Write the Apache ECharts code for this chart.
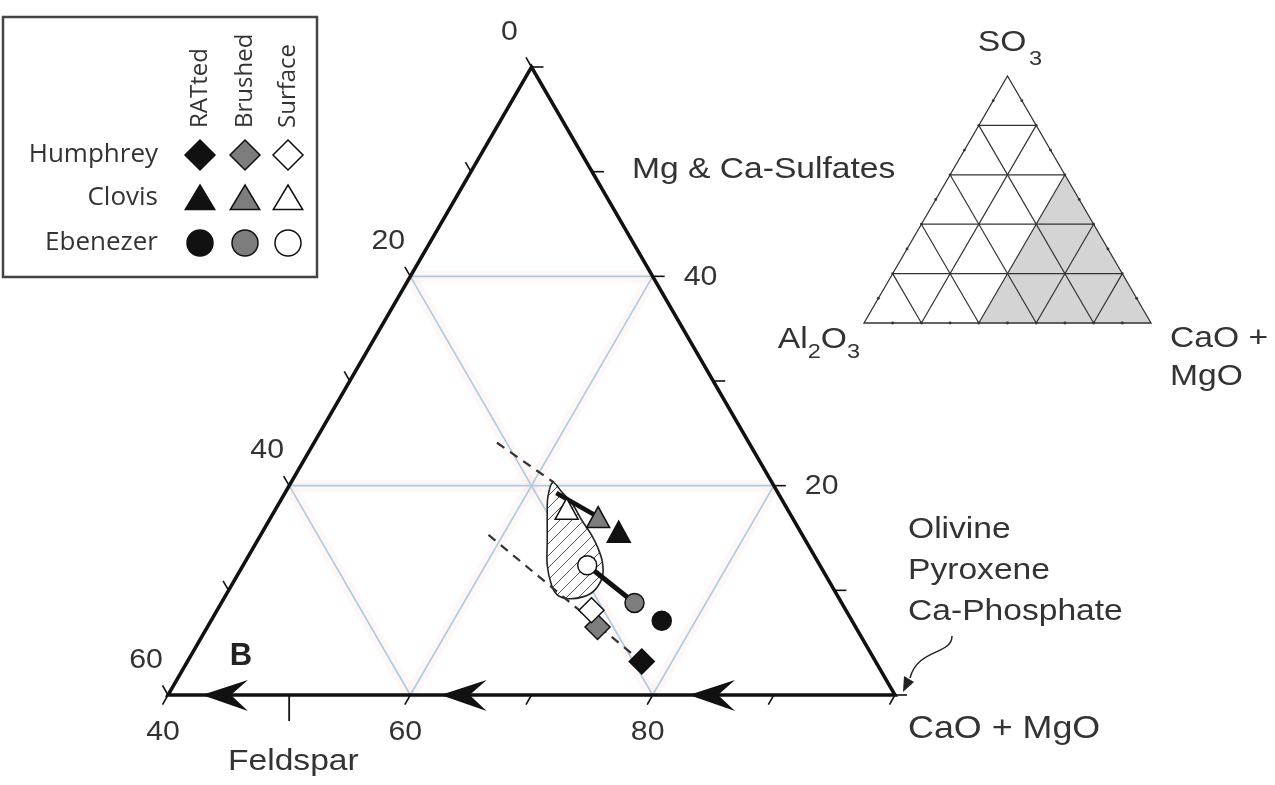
<!DOCTYPE html>
<html><head><meta charset="utf-8">
<script src="https://cdn.jsdelivr.net/npm/echarts@6.0.0/dist/echarts.min.js"></script>
<style>html,body{margin:0;padding:0;background:#fff}#c{width:1275px;height:785px}</style>
</head><body><div id="c"></div>
<script>
// ---------- DATA (wt %, SO3 + Al2O3 + CaO+MgO = 100) ----------
const treatments = ['RATted', 'Brushed', 'Surface'];
const rocks = ['Humphrey', 'Clovis', 'Ebenezer'];
const humphreySO3  = [3.2, 6.5, 8.1];
const humphreyCaMg = [77.5, 72.2, 70.9];
const clovisSO3    = [15.6, 17.0, 17.8];
const clovisCaMg   = [69.4, 67.0, 64.0];
const ebenezerSO3  = [7.1, 8.8, 12.4];
const ebenezerCaMg = [77.2, 74.1, 68.4];

// soil field (hatched) outline
const fieldSO3  = [20.3, 19.4, 18.2, 16.7, 15.3, 14.0, 12.7, 11.3, 10.0, 9.4, 9.2, 9.6, 10.5, 12.4, 14.8, 17.2, 18.9];
const fieldCaMg = [61.6, 62.8, 64.3, 65.8, 67.3, 68.5, 69.5, 70.2, 70.2, 69.6, 68.4, 67.3, 66.4, 65.1, 63.9, 62.7, 61.9];

// dashed trend lines
const upperTrendSO3  = [24.1, 20.3];
const upperTrendCaMg = [55.1, 61.7];
const lowerTrendSO3  = [15.3, 3.5];
const lowerTrendCaMg = [58.8, 77.0];
// Clovis arrow start (top of soil field)
const clovisArrowSO3 = [19.3, 17.0];
const clovisArrowCaMg = [62.4, 67.0];

// main triangle axes (sub-triangle CaO+MgO >= 40)
const caMgTicks   = [40, 50, 60, 70, 80, 90, 100];
const caMgLabels  = [40, 60, 80];
const al2o3Ticks  = [0, 10, 20, 30, 40, 50, 60];
const al2o3Labels = [0, 20, 40, 60];
const so3Ticks    = [0, 10, 20, 30, 40, 50, 60];
const so3Labels   = [40, 20];
const so3Grid   = [20, 40];
const caMgGrid  = [60, 80];
const al2o3Grid = [20, 40];
const feldsparCaMg = 50;
const arrowCaMg = [42.8, 62.5, 83.0];

// inset full ternary
const insetGrid  = [20, 40, 60, 80];
const insetTicks = [10, 20, 30, 40, 50, 60, 70, 80, 90];
const insetMinCaMg = 40, insetMaxSO3 = 60;

// ---------- helpers ----------
const xy = (s, c) => [c + s / 2, s];
const FONT = "'Liberation Sans', Arial, sans-serif";
const LFONT = "'Open Sans', 'Noto Sans', sans-serif";
const TXT = '#333';
const SX = 1.12;

const pc = document.createElement('canvas');
pc.width = 12; pc.height = 12;
(function () {
  const g = pc.getContext('2d');
  g.fillStyle = '#fff'; g.fillRect(0, 0, 12, 12);
  g.strokeStyle = '#555'; g.lineWidth = 1;
  for (let k = -1; k <= 1; k++) { g.beginPath(); g.moveTo(k * 12, 12); g.lineTo(k * 12 + 12, 0); g.stroke(); }
})();

const mctx = document.createElement('canvas').getContext('2d');
function chem(parts, x, y, size, align) {
  const sub = Math.round(size * 0.7);
  const els = []; let w = 0; const ws = [];
  parts.forEach(([t, isSub]) => {
    mctx.font = (isSub ? sub : size) + 'px ' + FONT;
    const m = mctx.measureText(t).width * SX; ws.push(m); w += m;
  });
  let cx = align === 'right' ? x - w : (align === 'center' ? x - w / 2 : x);
  parts.forEach(([t, isSub], i) => {
    els.push({ type: 'text', x: cx, y: isSub ? y + size * 0.42 : y, scaleX: SX,
      style: { text: t, font: (isSub ? sub : size) + 'px ' + FONT, fill: TXT, align: 'left', verticalAlign: 'middle' } });
    cx += ws[i];
  });
  return els;
}
function T(text, x, y, size, opts) {
  opts = opts || {};
  return { type: 'text', x, y, scaleX: opts.sx || SX, rotation: opts.rot || 0,
    style: { text, font: (opts.bold ? 'bold ' : '') + size + 'px ' + (opts.family || FONT), fill: opts.fill || TXT,
      align: opts.align || 'left', verticalAlign: 'middle' } };
}
function diamond(cx, cy, r, fill) {
  return { type: 'polygon', shape: { points: [[cx, cy - r], [cx + r, cy], [cx, cy + r], [cx - r, cy]] },
    style: { fill, stroke: '#111', lineWidth: 1.5 } };
}
function tri(cx, cy, r, fill) {
  return { type: 'polygon', shape: { points: [[cx, cy - r], [cx + r * 1.05, cy + r * 0.75], [cx - r * 1.05, cy + r * 0.75]] },
    style: { fill, stroke: '#111', lineWidth: 1.5 } };
}
function circ(cx, cy, r, fill) {
  return { type: 'circle', shape: { cx, cy, r }, style: { fill, stroke: '#111', lineWidth: 1.5 } };
}
const fills = ['#111111', '#7d7d7d', '#ffffff'];

// ---------- legend ----------
const legend = [{ type: 'rect', shape: { x: 3, y: 17, width: 314, height: 260 }, style: { fill: '#fff', stroke: '#444', lineWidth: 2.5 } }];
const colX = [200, 245, 288];
const rowY = [155, 198, 243];
treatments.forEach((t, i) => legend.push(T(t, colX[i], 128, 24, { rot: Math.PI / 2, family: LFONT, sx: 1 })));
rocks.forEach((r, j) => {
  legend.push(T(r, 158, rowY[j], 25, { align: 'right', family: LFONT, sx: 1.04 }));
  treatments.forEach((t, i) => {
    const f = fills[i];
    if (j === 0) legend.push(diamond(colX[i], rowY[j], 15, f));
    if (j === 1) legend.push(tri(colX[i], rowY[j] + 1, 14, f));
    if (j === 2) legend.push(circ(colX[i], rowY[j], 13, f));
  });
});

// ---------- labels ----------
const labels = [
  T('Mg & Ca-Sulfates', 632, 170, 30),
  T('Olivine', 908, 530, 30),
  T('Pyroxene', 908, 571, 30),
  T('Ca-Phosphate', 908, 612, 30),
  T('CaO + MgO', 908, 729, 32),
  T('Feldspar', 228, 762, 30),
  T('B', 241, 656, 31, { bold: true, align: 'center', fill: '#222', sx: 1 }),
  T('SO', 1002, 43, 30, { align: 'center' }),
  T('3', 1029, 59, 21),
  T('CaO +', 1170, 339, 30),
  T('MgO', 1170, 377, 30),
  { type: 'bezierCurve', shape: { x1: 952, y1: 636, cpx1: 952, cpy1: 655, cpx2: 918, cpy2: 648, x2: 910, y2: 678 },
    style: { stroke: '#222', lineWidth: 1.5, fill: null } },
  { type: 'polygon', shape: { points: [[903, 692], [904, 676], [914, 682]] }, style: { fill: '#222' } }
].concat(chem([['Al', 0], ['2', 1], ['O', 0], ['3', 1]], 860, 340, 30, 'right'));

// ---------- render functions ----------
function mainFrame(params, api) {
  const P = (s, c) => api.coord(xy(s, c));
  const ch = [];
  const segs = [];
  so3Grid.forEach(s => segs.push([P(s, 40), P(s, 100 - s)]));
  caMgGrid.forEach(c => segs.push([P(0, c), P(100 - c, c)]));
  al2o3Grid.forEach(a => segs.push([P(60 - a, 40), P(0, 100 - a)]));
  segs.forEach(([a, b]) => ch.push({ type: 'line', shape: { x1: a[0], y1: a[1], x2: b[0], y2: b[1] }, style: { stroke: 'rgba(250,225,215,0.25)', lineWidth: 12 } }));
  segs.forEach(([a, b]) => ch.push({ type: 'line', shape: { x1: a[0], y1: a[1], x2: b[0], y2: b[1] }, style: { stroke: '#a9cce4', lineWidth: 1.6 } }));
  return { type: 'group', children: ch };
}
function mainAxes(params, api) {
  const P = (s, c) => api.coord(xy(s, c));
  const ch = [];
  const L = (x1, y1, x2, y2, w) => ch.push({ type: 'line', shape: { x1, y1, x2, y2 }, style: { stroke: '#111', lineWidth: w || 1.6 } });
  const tl = 11;
  al2o3Ticks.forEach(a => { const p = P(60 - a, 40); L(p[0], p[1], p[0] - tl * 0.5, p[1] - tl * 0.866); });
  so3Ticks.forEach(s => { const p = P(s, 100 - s); L(p[0], p[1], p[0] + 12, p[1]); });
  caMgTicks.forEach(c => {
    const p = P(0, c);
    if (c === feldsparCaMg) L(p[0], p[1], p[0], p[1] + 26, 1.8);
    else L(p[0], p[1], p[0] - tl * 0.5, p[1] + tl * 0.866);
  });
  ch.push({ type: 'polygon', shape: { points: [P(0, 40), P(0, 100), P(60, 40)] },
    style: { fill: null, stroke: '#111', lineWidth: 3.5, lineJoin: 'miter' } });
  arrowCaMg.forEach(c => {
    const p = P(0, c);
    ch.push({ type: 'polygon', shape: { points: [[p[0], p[1]], [p[0] + 46, p[1] - 15], [p[0] + 29, p[1]], [p[0] + 46, p[1] + 16]] },
      style: { fill: '#111' } });
  });
  const lab = (t, x, y, align) => ch.push({ type: 'text', x, y, scaleX: 1.08,
    style: { text: String(t), font: '28px ' + FONT, fill: TXT, align: align || 'center', verticalAlign: 'middle' } });
  caMgLabels.forEach(c => { const p = P(0, c); lab(c, p[0] - 5, p[1] + 37); });
  al2o3Labels.forEach(a => { const p = P(60 - a, 40); lab(a, p[0] - 22, p[1] - 35); });
  so3Labels.forEach(s => { const p = P(s, 100 - s); lab(s, p[0] + 31, p[1] + 1, 'left'); });
  return { type: 'group', children: ch };
}
function field(params, api) {
  const pts = fieldSO3.map((s, i) => api.coord(xy(s, fieldCaMg[i])));
  return { type: 'polygon', shape: { points: pts, smooth: 0.35 },
    style: { fill: { image: pc, repeat: 'repeat' }, stroke: '#222', lineWidth: 1.6 } };
}
function inset(params, api) {
  const P = (s, c) => api.coord(xy(s, c));
  const ch = [];
  ch.push({ type: 'polygon', shape: { points: [P(0, insetMinCaMg), P(0, 100), P(insetMaxSO3, 100 - insetMaxSO3)] },
    style: { fill: '#d4d4d4' } });
  const L = (a, b) => ch.push({ type: 'line', shape: { x1: a[0], y1: a[1], x2: b[0], y2: b[1] }, style: { stroke: '#333', lineWidth: 1.2 } });
  insetGrid.forEach(g => {
    L(P(g, 0), P(g, 100 - g));
    L(P(0, g), P(100 - g, g));
    L(P(0, 100 - g), P(100 - g, 0));
  });
  ch.push({ type: 'polygon', shape: { points: [P(0, 0), P(0, 100), P(100, 0)] }, style: { fill: null, stroke: '#333', lineWidth: 1.3 } });
  insetTicks.forEach(t => {
    [P(0, t), P(t, 0), P(t, 100 - t)].forEach(p => ch.push({ type: 'circle', shape: { cx: p[0], cy: p[1], r: 1.4 }, style: { fill: '#333' } }));
  });
  return { type: 'group', children: ch };
}

// ---------- series ----------
const rockData = [[humphreySO3, humphreyCaMg, 'diamond', [25, 25]], [clovisSO3, clovisCaMg, 'triangle', [23, 21]], [ebenezerSO3, ebenezerCaMg, 'circle', 19]];
const scatterSeries = rocks.map((r, j) => ({
  name: r, type: 'scatter', xAxisIndex: 0, yAxisIndex: 0, z: 10,
  symbol: rockData[j][2], symbolSize: rockData[j][3],
  itemStyle: { borderColor: '#111', borderWidth: 1.5, opacity: 1 },
  data: treatments.map((t, i) => ({ name: t, value: xy(rockData[j][0][i], rockData[j][1][i]), itemStyle: { color: fills[i] } }))
}));
const lineS = (S, Cm, w, z, type, color) => ({ type: 'line', z, xAxisIndex: 0, yAxisIndex: 0, showSymbol: false, symbol: 'none',
  lineStyle: { color: color || '#111', width: w, type: type || 'solid' }, data: S.map((s, i) => xy(s, Cm[i])) });

const option = {
  animation: false,
  backgroundColor: '#fff',
  grid: [
    { left: 168, right: 380, top: 67, bottom: 90 },
    { left: 864, right: 124, top: 76, bottom: 462 }
  ],
  xAxis: [
    { gridIndex: 0, type: 'value', min: 40, max: 100, show: false },
    { gridIndex: 1, type: 'value', min: 0, max: 100, show: false }
  ],
  yAxis: [
    { gridIndex: 0, type: 'value', min: 0, max: 60, show: false },
    { gridIndex: 1, type: 'value', min: 0, max: 100, show: false }
  ],
  series: [
    { type: 'custom', xAxisIndex: 1, yAxisIndex: 1, silent: true, z: 1, renderItem: inset, data: [[50, 50]] },
    { type: 'custom', xAxisIndex: 0, yAxisIndex: 0, silent: true, z: 1, renderItem: mainFrame, data: [[70, 30]] },
    { type: 'custom', xAxisIndex: 0, yAxisIndex: 0, silent: true, z: 3, renderItem: field, data: [[70, 30]] },
    lineS(upperTrendSO3, upperTrendCaMg, 2.2, 4, [9, 7], '#333'),
    lineS(lowerTrendSO3, lowerTrendCaMg, 2.2, 4, [9, 7], '#333'),
    lineS(clovisArrowSO3, clovisArrowCaMg, 4.5, 6),
    lineS([ebenezerSO3[2], ebenezerSO3[1]], [ebenezerCaMg[2], ebenezerCaMg[1]], 5, 6),
    lineS([humphreySO3[2], humphreySO3[1]], [humphreyCaMg[2], humphreyCaMg[1]], 1.5, 6),
    { type: 'custom', xAxisIndex: 0, yAxisIndex: 0, silent: true, z: 8, renderItem: mainAxes, data: [[70, 30]] }
  ].concat(scatterSeries),
  graphic: [{ type: 'group', children: legend.concat(labels), z: 20 }]
};
const chart = echarts.init(document.getElementById('c'));
chart.setOption(option);
</script>
</body></html>
